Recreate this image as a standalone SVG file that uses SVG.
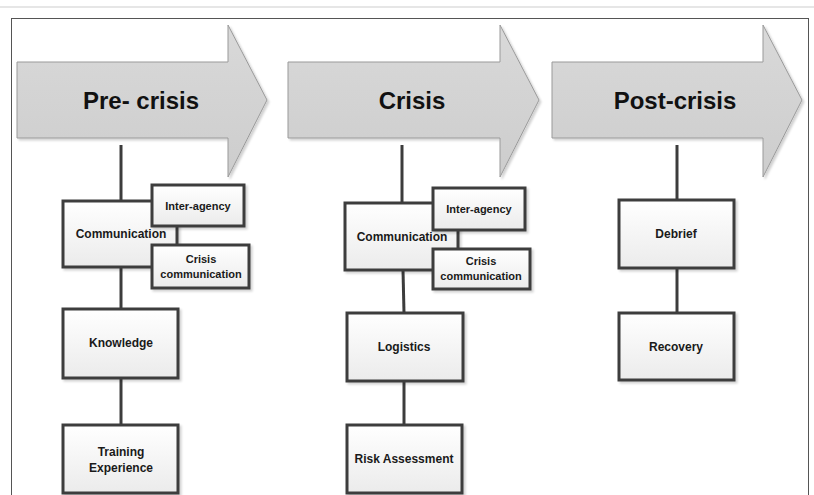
<svg xmlns="http://www.w3.org/2000/svg" width="814" height="495" viewBox="0 0 814 495">
<defs>
<linearGradient id="arrowFill" x1="0" y1="0" x2="0" y2="1">
<stop offset="0" stop-color="#d9d9d9"/>
<stop offset="1" stop-color="#cdcdcd"/>
</linearGradient>
<linearGradient id="boxFill" x1="0" y1="0" x2="0" y2="1">
<stop offset="0" stop-color="#ffffff"/>
<stop offset="1" stop-color="#ebebeb"/>
</linearGradient>
<filter id="shadow" x="-10%" y="-10%" width="130%" height="130%">
<feDropShadow dx="2" dy="2" stdDeviation="1.2" flood-color="#000" flood-opacity="0.18"/>
</filter>
</defs>
<style>
.arrow{fill:url(#arrowFill);stroke:#9a9a9a;stroke-width:1;filter:url(#shadow)}
.title{font-family:"Liberation Sans",Arial,sans-serif;font-weight:bold;font-size:24px;fill:#111;text-anchor:middle}
.box{fill:url(#boxFill);stroke:#3c3c3c;stroke-width:3;filter:url(#shadow)}
.lbl{font-family:"Liberation Sans",Arial,sans-serif;font-weight:bold;font-size:12px;fill:#1a1a1a;text-anchor:middle}
.sm{font-size:11px}
.conn{stroke:#3c3c3c;stroke-width:3;fill:none}
</style>
<rect width="814" height="495" fill="#ffffff"/>
<line x1="0" y1="7" x2="814" y2="7" stroke="#e6e6e6" stroke-width="2"/>
<rect x="11.5" y="18.5" width="797" height="490" fill="none" stroke="#555" stroke-width="1"/>

<g id="phase-pre">
<path class="arrow" d="M17 62 H228 V25 L267 100 L228 177 V138 H17 Z"/>
<text class="title" x="141" y="109">Pre- crisis</text>
</g>
<g id="phase-crisis">
<path class="arrow" d="M288 62 H500 V25 L539 100 L500 177 V138 H288 Z"/>
<text class="title" x="412" y="109">Crisis</text>
</g>
<g id="phase-post">
<path class="arrow" d="M552 62 H763 V25 L802 100 L763 177 V138 H552 Z"/>
<text class="title" x="675" y="109">Post-crisis</text>
</g>

<g id="connectors">
<line class="conn" x1="121" y1="145" x2="121" y2="201"/>
<line class="conn" x1="121" y1="267" x2="121" y2="309"/>
<line class="conn" x1="121" y1="378" x2="121" y2="425"/>
<line class="conn" x1="402" y1="145" x2="402" y2="203"/>
<line class="conn" x1="403" y1="270" x2="404" y2="313"/>
<line class="conn" x1="404" y1="381" x2="404" y2="425"/>
<line class="conn" x1="677" y1="145" x2="677" y2="200"/>
<line class="conn" x1="677" y1="268" x2="677" y2="313"/>
</g>

<g id="pre-communication">
<rect class="box" x="63" y="201" width="114" height="66"/>
<text class="lbl" x="121" y="238">Communication</text>
</g>
<g id="pre-interagency">
<rect class="box" x="152" y="185" width="92" height="41"/>
<text class="lbl sm" x="198" y="210">Inter-agency</text>
</g>
<g id="pre-crisis-communication">
<rect class="box" x="152" y="245" width="97" height="43"/>
<text class="lbl sm" x="201" y="263">Crisis</text>
<text class="lbl sm" x="201" y="278">communication</text>
</g>
<g id="pre-knowledge">
<rect class="box" x="63" y="309" width="115" height="69"/>
<text class="lbl" x="121" y="347">Knowledge</text>
</g>
<g id="pre-training">
<rect class="box" x="63" y="425" width="115" height="68"/>
<text class="lbl" x="121" y="456">Training</text>
<text class="lbl" x="121" y="472">Experience</text>
</g>

<g id="crisis-communication">
<rect class="box" x="345" y="203" width="113" height="67"/>
<text class="lbl" x="402" y="241">Communication</text>
</g>
<g id="crisis-interagency">
<rect class="box" x="433" y="188" width="92" height="42"/>
<text class="lbl sm" x="479" y="213">Inter-agency</text>
</g>
<g id="crisis-crisis-communication">
<rect class="box" x="433" y="249" width="97" height="40"/>
<text class="lbl sm" x="481" y="265">Crisis</text>
<text class="lbl sm" x="481" y="280">communication</text>
</g>
<g id="crisis-logistics">
<rect class="box" x="347" y="313" width="116" height="68"/>
<text class="lbl" x="404" y="351">Logistics</text>
</g>
<g id="crisis-risk">
<rect class="box" x="347" y="425" width="115" height="68"/>
<text class="lbl" x="404" y="463">Risk Assessment</text>
</g>

<g id="post-debrief">
<rect class="box" x="619" y="200" width="115" height="68"/>
<text class="lbl" x="676" y="238">Debrief</text>
</g>
<g id="post-recovery">
<rect class="box" x="619" y="313" width="115" height="67"/>
<text class="lbl" x="676" y="351">Recovery</text>
</g>
</svg>
